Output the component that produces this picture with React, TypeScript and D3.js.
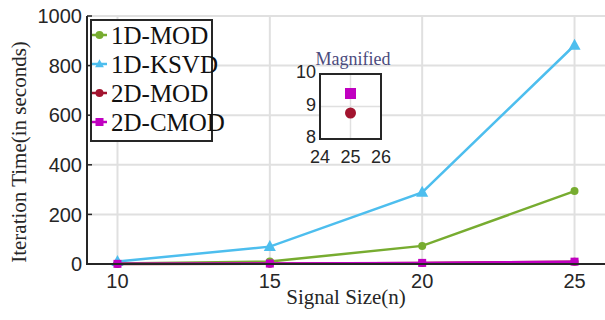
import * as d3 from 'd3';
import React from 'react';

const signalSizes = [10, 15, 20, 25];
const mod1D = [2, 10, 73, 294];
const ksvd1D = [10, 70, 289, 882];
const mod2D = [0.5, 1.5, 4, 8.8];
const cmod2D = [0.6, 1.8, 4.5, 9.4];
const seriesNames = ["1D-MOD", "1D-KSVD", "2D-MOD", "2D-CMOD"];
const yTicks = [0, 200, 400, 600, 800, 1000];
const insetXTicks = [24, 25, 26];
const insetYTicks = [8, 9, 10];

const COLORS = ["#77ac30", "#4dbeee", "#a2142f", "#c000c0"];
const SHAPES = ["circle", "triangle", "circle", "square"];
const SANS = "'Liberation Sans', Arial, sans-serif";
const SERIF = "'Liberation Serif', 'Times New Roman', serif";
const AXIS = "#262626";
const GRID = "#e0e0e0";

const W = 605;
const H = 320;

const Marker: React.FC<{ shape: string; x: number; y: number; color: string; size: number }> = ({ shape, x, y, color, size }) => {
  if (shape === "circle") return <circle cx={x} cy={y} r={size / 2} fill={color} />;
  if (shape === "square") return <rect x={x - size / 2} y={y - size / 2} width={size} height={size} fill={color} />;
  const h = size;
  return <path d={`M${x},${y - h * 0.6}L${x + h * 0.55},${y + h * 0.4}L${x - h * 0.55},${y + h * 0.4}Z`} fill={color} />;
};

const App: React.FC = () => {
  const x = d3.scaleLinear().domain([9, 26]).range([87, 605]);
  const y = d3.scaleLinear().domain([0, 1000]).range([264, 16]);
  const series = [mod1D, ksvd1D, mod2D, cmod2D];
  const line = d3.line<number>().x((_, i) => x(signalSizes[i])).y(v => y(v));

  // inset (zoom on the 2D points at n = 25)
  const ix = d3.scaleLinear().domain([24, 26]).range([320, 381]);
  const iy = d3.scaleLinear().domain([8, 10]).range([139, 74]);
  const last = signalSizes.length - 1;

  const markerSize = [8, 11, 8, 8];

  return (
    <svg width={W} height={H} style={{ position: "absolute", left: 0, top: 0, background: "#fff" }}>
      {/* grid */}
      {signalSizes.map(t => (
        <line key={`gx${t}`} x1={x(t)} x2={x(t)} y1={y(1000)} y2={y(0)} stroke={GRID} strokeWidth={2} />
      ))}
      {yTicks.map(t => (
        <line key={`gy${t}`} x1={x(9)} x2={W} y1={y(t)} y2={y(t)} stroke={GRID} strokeWidth={2} />
      ))}

      {/* series */}
      {series.map((vals, si) => (
        <g key={seriesNames[si]}>
          <path d={line(vals) || ""} fill="none" stroke={COLORS[si]} strokeWidth={2.5} />
          {vals.map((v, i) => (
            <Marker key={i} shape={SHAPES[si]} x={x(signalSizes[i])} y={y(v)} color={COLORS[si]} size={markerSize[si]} />
          ))}
        </g>
      ))}

      {/* axes */}
      <line x1={x(9)} x2={x(9)} y1={y(1000)} y2={y(0) + 1} stroke={AXIS} strokeWidth={2} />
      <line x1={x(9)} x2={W} y1={y(0)} y2={y(0)} stroke={AXIS} strokeWidth={2} />
      {yTicks.map(t => (
        <g key={`yt${t}`}>
          <line x1={x(9)} x2={x(9) + 5} y1={y(t)} y2={y(t)} stroke={AXIS} strokeWidth={1.5} />
          <text x={x(9) - 5} y={y(t)} dy="0.36em" textAnchor="end" style={{ fontFamily: SANS, fontSize: 20 }} fill={AXIS}>{t}</text>
        </g>
      ))}
      {signalSizes.map(t => (
        <text key={`xt${t}`} x={x(t)} y={y(0) + 24} textAnchor="middle" style={{ fontFamily: SANS, fontSize: 20 }} fill={AXIS}>{t}</text>
      ))}
      <text x={346} y={304} textAnchor="middle" style={{ fontFamily: SERIF, fontSize: 21 }} fill={AXIS}>Signal Size(n)</text>
      <text transform="translate(26,152) rotate(-90)" textAnchor="middle" style={{ fontFamily: SERIF, fontSize: 21 }} fill={AXIS}>Iteration Time(in seconds)</text>

      {/* legend */}
      <rect x={91} y={20} width={121} height={121} fill="#fff" stroke={AXIS} strokeWidth={2} />
      {seriesNames.map((name, i) => {
        const ly = 35 + i * 29;
        return (
          <g key={name}>
            <line x1={92} x2={107} y1={ly} y2={ly} stroke={COLORS[i]} strokeWidth={2.5} />
            <Marker shape={SHAPES[i]} x={99.5} y={ly} color={COLORS[i]} size={8} />
            <text x={111} y={ly} dy="0.35em" style={{ fontFamily: SERIF, fontSize: 25 }} fill="#111">{name}</text>
          </g>
        );
      })}

      {/* inset */}
      <text x={353} y={65} textAnchor="middle" style={{ fontFamily: SERIF, fontSize: 18 }} fill="#4b4b7d">Magnified</text>
      <rect x={ix(24)} y={iy(10)} width={ix(26) - ix(24)} height={iy(8) - iy(10)} fill="#fff" />
      <line x1={ix(25)} x2={ix(25)} y1={iy(10)} y2={iy(8)} stroke={GRID} strokeWidth={1.5} />
      <line x1={ix(24)} x2={ix(26)} y1={iy(9)} y2={iy(9)} stroke={GRID} strokeWidth={1.5} />
      <Marker shape="square" x={ix(signalSizes[last])} y={iy(cmod2D[last])} color={COLORS[3]} size={11} />
      <Marker shape="circle" x={ix(signalSizes[last])} y={iy(mod2D[last])} color={COLORS[2]} size={11} />
      <rect x={ix(24)} y={iy(10)} width={ix(26) - ix(24)} height={iy(8) - iy(10)} fill="none" stroke={AXIS} strokeWidth={2} />
      {insetYTicks.map(t => (
        <text key={`iy${t}`} x={ix(24) - 4} y={iy(t) - 2} dy="0.36em" textAnchor="end" style={{ fontFamily: SANS, fontSize: 18 }} fill={AXIS}>{t}</text>
      ))}
      {insetXTicks.map(t => (
        <text key={`ix${t}`} x={ix(t)} y={iy(8) + 24} textAnchor="middle" style={{ fontFamily: SANS, fontSize: 18 }} fill={AXIS}>{t}</text>
      ))}
    </svg>
  );
};

export default App;
